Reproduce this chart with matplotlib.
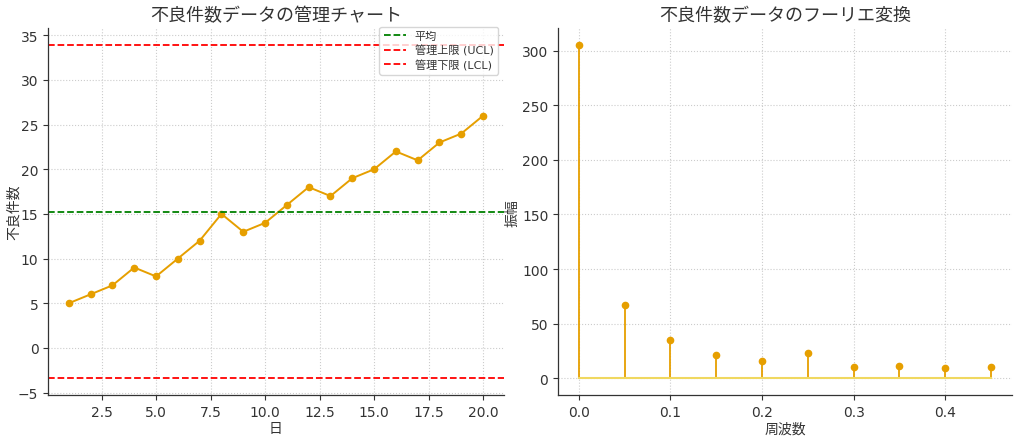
import matplotlib
matplotlib.use("Agg")
import matplotlib.pyplot as plt
import numpy as np

plt.rcParams['font.family'] = ['DejaVu Sans', 'Noto Sans CJK JP']

days = list(range(1, 21))
defects = [5, 6, 7, 9, 8, 10, 12, 15, 13, 14, 16, 18, 17, 19, 20, 22, 21, 23, 24, 26]

freqs = [0.0, 0.05, 0.10, 0.15, 0.20, 0.25, 0.30, 0.35, 0.40, 0.45]
amps = [305, 66.7, 35.2, 21.2, 16.3, 23.0, 10.0, 11.6, 9.4, 10.0]

left_title = "不良件数データの管理チャート"
right_title = "不良件数データのフーリエ変換"
legend_labels = ["平均", "管理上限 (UCL)", "管理下限 (LCL)"]

mean = np.mean(defects)
std = np.std(defects)
ucl = mean + 3 * std
lcl = mean - 3 * std

orange = '#E69F00'
text_color = '#333333'

fig = plt.figure(figsize=(10.24, 4.39), dpi=100)
ax1 = fig.add_axes([0.047, 0.098, 0.445, 0.835])
ax2 = fig.add_axes([0.545, 0.098, 0.443, 0.835])

for ax in (ax1, ax2):
    ax.grid(True, linestyle=':', color='#cccccc', linewidth=0.8)
    ax.set_axisbelow(True)
    for s in ('top', 'right'):
        ax.spines[s].set_visible(False)
    for s in ('left', 'bottom'):
        ax.spines[s].set_color('#333333')
        ax.spines[s].set_linewidth(0.9)
    ax.tick_params(colors=text_color, labelsize=10, length=3.5, width=0.8)

ax1.plot(days, defects, color=orange, marker='o', markersize=4.5, linewidth=1.4)
ax1.axhline(mean, color='green', linestyle='--', linewidth=1.3, label=legend_labels[0])
ax1.axhline(ucl, color='red', linestyle='--', linewidth=1.3, label=legend_labels[1])
ax1.axhline(lcl, color='red', linestyle='--', linewidth=1.3, label=legend_labels[2])
ax1.set_title(left_title, fontsize=13, color=text_color, pad=6)
ax1.set_xlabel("日", fontsize=10, color=text_color, labelpad=2)
ax1.set_ylabel("不良件数", fontsize=10, color=text_color)
ax1.yaxis.set_label_coords(-0.06, 0.5)
ax1.set_yticks([-5, 0, 5, 10, 15, 20, 25, 30, 35])
leg = ax1.legend(loc='upper right', fontsize=8, frameon=True, borderpad=0.4,
                 handlelength=2.0, labelspacing=0.3, bbox_to_anchor=(1.0, 1.02))
for t in leg.get_texts():
    t.set_color(text_color)

markerline, stemlines, baseline = ax2.stem(freqs, amps)
plt.setp(markerline, color=orange, markersize=4.5)
plt.setp(stemlines, color=orange, linewidth=1.3)
plt.setp(baseline, color='#F0D860', linewidth=1.5)
ax2.set_title(right_title, fontsize=13, color=text_color, pad=6)
ax2.set_xlabel("周波数", fontsize=10, color=text_color, labelpad=2)
ax2.set_ylabel("振幅", fontsize=10, color=text_color)
ax2.yaxis.set_label_coords(-0.085, 0.5)
ax2.set_xticks([0.0, 0.1, 0.2, 0.3, 0.4])

fig.savefig("out.png", dpi=100)
